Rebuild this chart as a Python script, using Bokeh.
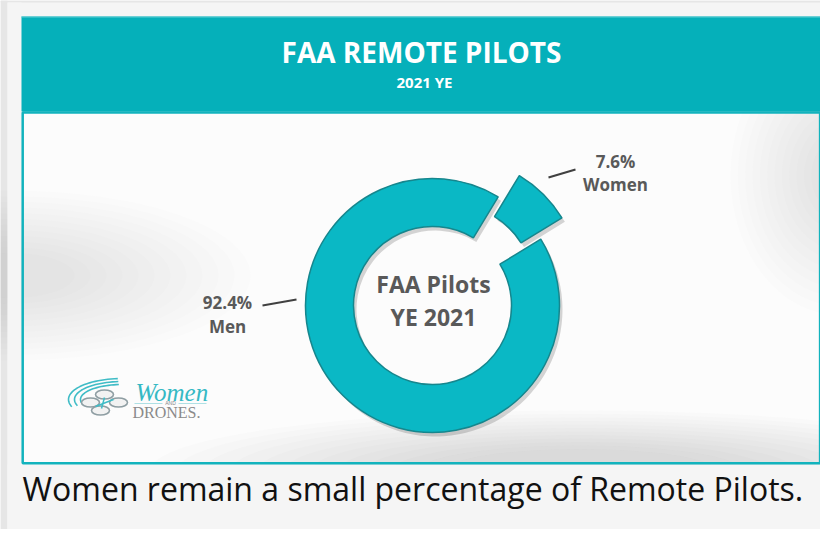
import numpy as np
from bokeh.plotting import figure
from bokeh.models import Range1d
from bokeh.embed import file_html
from bokeh.resources import INLINE
from bokeh.core.properties import value

# ---- data ----
categories = ["Women", "Men"]
shares = [7.6, 92.4]
title_text = "FAA REMOTE PILOTS"
subtitle_text = "2021 YE"
center_lines = ["FAA Pilots", "YE 2021"]
caption_text = "Women remain a small percentage of Remote Pilots."

# ---- canvas: data units == screen pixels ----
W, H = 820, 529
p = figure(width=W, height=H, x_range=Range1d(0, W), y_range=Range1d(0, H),
           output_backend="svg", toolbar_location=None, min_border=0)
p.axis.visible = False
p.grid.visible = False
p.outline_line_color = None
p.background_fill_color = "#f5f5f5"
p.border_fill_color = "#f5f5f5"


def X(px):
    return px


def Y(py):
    return H - py


TEAL = "#05b0ba"
RING = "#0ab8c5"
RING_EDGE = "#16868d"
GRAY_TXT = "#595959"
OS = value("Open Sans")

# outer page frame
p.quad(left=0, right=X(7), top=Y(0), bottom=Y(H), fill_color="#e6e6e6", line_color=None)
p.quad(left=0, right=X(W), top=Y(0), bottom=Y(2), fill_color="#e6e6e6", line_color=None)

# content panel
p.quad(left=X(21), right=X(822), top=Y(112), bottom=Y(464), fill_color="#fcfcfc", line_color=None)
# soft background shading (many faint stacked ellipses -> smooth gradient)
n = 12
for k in range(n):
    f = k / n
    p.ellipse(x=X(580), y=Y(470), width=860 * (1 - 0.75 * f), height=120 * (1 - 0.7 * f),
              fill_color="#a8a8a8", fill_alpha=0.03, line_color=None)
for k in range(n):
    f = k / n
    p.ellipse(x=X(10), y=Y(275), width=480 * (1 - 0.8 * f), height=170 * (1 - 0.8 * f),
              fill_color="#b8b8b8", fill_alpha=0.022, line_color=None)
for k in range(n):
    f = k / n
    p.ellipse(x=X(840), y=Y(175), width=220 * (1 - 0.8 * f), height=280 * (1 - 0.8 * f),
              fill_color="#b0b0b0", fill_alpha=0.022, line_color=None)

# cover what spills outside the panel
p.quad(left=X(7), right=X(21), top=Y(2), bottom=Y(H), fill_color="#f5f5f5", line_color=None)
p.quad(left=X(7), right=X(W), top=Y(464), bottom=Y(H), fill_color="#f5f5f5", line_color=None)

# panel border + header band
p.quad(left=X(22.2), right=X(819.6), top=Y(112), bottom=Y(462.8), fill_color=None,
       line_color="#12b3bd", line_width=2.5)
p.quad(left=X(21), right=X(822), top=Y(16), bottom=Y(111), fill_color=TEAL, line_color=None)
p.segment(x0=[X(21)], y0=[Y(16.5)], x1=[X(822)], y1=[Y(16.5)], line_color="#5fcdd3", line_width=1)

p.text(x=[X(421)], y=[Y(51)], text=[title_text], text_font=OS, text_font_style="bold",
       text_font_size="28px", text_color="white", text_align="center", text_baseline="alphabetic")
p.text(x=[X(424)], y=[Y(81)], text=[subtitle_text], text_font=OS, text_font_style="bold",
       text_font_size="15px", text_color="white", text_align="center", text_baseline="alphabetic")

# ---- donut ----
fr = np.array(shares) / sum(shares)
rot = np.deg2rad(31.5)
ends = rot + 2 * np.pi * np.cumsum(fr)
starts = ends - 2 * np.pi * fr
mids = (starts + ends) / 2
explode = np.array([30.0, 0.0])
cx0, cy0 = X(432), Y(305)
cx = cx0 + explode * np.cos(mids)
cy = cy0 + explode * np.sin(mids)
r_in, r_out = 79, 127

p.annular_wedge(x=cx + 3, y=cy - 4, inner_radius=r_in, outer_radius=r_out,
                start_angle=starts, end_angle=ends, fill_color="#000000", fill_alpha=0.16, line_color=None)
p.annular_wedge(x=cx, y=cy, inner_radius=r_in, outer_radius=r_out,
                start_angle=starts, end_angle=ends, fill_color=RING, line_color=RING_EDGE, line_width=1.5)

p.text(x=[cx0 + 1, cx0 + 1], y=[Y(283), Y(316)], text=center_lines, text_font=OS, text_font_style="bold",
       text_font_size="23px", text_color=GRAY_TXT, text_align="center", text_baseline="alphabetic")

# labels
lab_x = [X(615), X(227)]
lab_y1 = [Y(161), Y(302)]
lab_y2 = [Y(184), Y(326)]
pct = [f"{s}%" for s in shares]
p.text(x=lab_x, y=lab_y1, text=pct, text_font=OS, text_font_style="bold", text_font_size="17px",
       text_color=GRAY_TXT, text_align="center", text_baseline="alphabetic")
p.text(x=lab_x, y=lab_y2, text=categories, text_font=OS, text_font_style="bold", text_font_size="17px",
       text_color=GRAY_TXT, text_align="center", text_baseline="alphabetic")
p.segment(x0=[X(548), X(262)], y0=[Y(177), Y(305)], x1=[X(575), X(296)], y1=[Y(169), Y(299)],
          line_color="#404040", line_width=2)

# ---- logo ----
t = np.linspace(np.deg2rad(95), np.deg2rad(200), 30)
xs, ys = [], []
for a, b in [(42, 15), (48, 18), (54, 21)]:
    xs.append(list(X(122) + a * np.cos(t)))
    ys.append(list(Y(399) + b * np.sin(t)))
p.multi_line(xs=xs, ys=ys, line_color="#3fbcc6", line_width=1.6)
p.ellipse(x=[X(104), X(118), X(90), X(100)], y=[Y(394), Y(402), Y(402), Y(410)], width=18, height=9,
          fill_color="#f2f2f2", line_color="#8f9ea3", line_width=1.6)
p.segment(x0=[X(95), X(104)], y0=[Y(406), Y(397)], x1=[X(113), X(101)], y1=[Y(399), Y(408)],
          line_color="#3fbcc6", line_width=1.5)
p.text(x=[X(135)], y=[Y(392)], text=["Women"], text_font=value("Liberation Serif"), text_font_style="italic",
       text_font_size="25px", text_color="#35b9c4", text_baseline="alphabetic")
p.text(x=[X(170)], y=[Y(402)], text=["AND"], text_font=value("Liberation Sans"),
       text_font_size="5px", text_color="#888888", text_align="center", text_baseline="alphabetic")
p.segment(x0=[X(134), X(178)], y0=[Y(403), Y(403)], x1=[X(162), X(206)], y1=[Y(403), Y(403)],
          line_color="#9ad8dd", line_width=0.8)
p.text(x=[X(132)], y=[Y(412)], text=["DRONES."], text_font=value("Liberation Serif"),
       text_font_size="16px", text_color="#8a8a8a", text_baseline="alphabetic")

# ---- caption ----
p.text(x=[X(22)], y=[Y(488)], text=[caption_text], text_font=OS, text_font_size="32px",
       text_color="#111111", text_baseline="alphabetic")

open("out.html", "w").write(file_html(p, INLINE))
